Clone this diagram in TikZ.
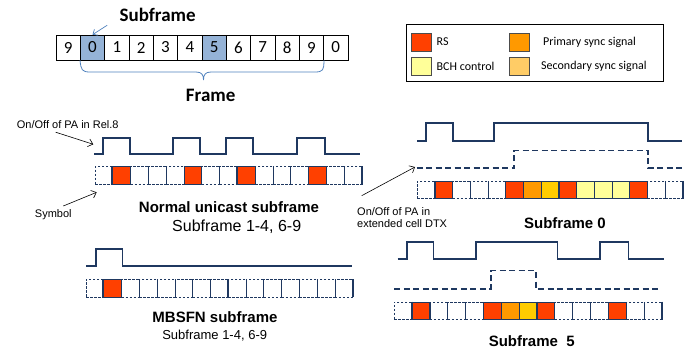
\documentclass[tikz,border=0pt]{standalone}
\usepackage{fontspec}
\setmainfont{Liberation Sans}
\newfontfamily\calibri{Carlito}
\usetikzlibrary{positioning, arrows.meta}

\definecolor{pacol}{RGB}{31,56,96}
\definecolor{rscol}{RGB}{255,64,0}
\definecolor{pscol}{RGB}{255,153,0}
\definecolor{sscol}{RGB}{255,204,0}
\definecolor{sslight}{RGB}{255,204,102}
\definecolor{bchcol}{RGB}{255,255,153}
\definecolor{sfblue}{RGB}{149,179,215}
\definecolor{brcol}{RGB}{79,129,189}

\tikzset{
  symcell/.style={draw=pacol, dash pattern=on 2.5pt off 1.5pt, line width=0.8pt,
    minimum height=17.5pt, inner sep=0pt},
  symfill/.style={draw=pacol, line width=1pt, minimum height=17.5pt, inner sep=0pt},
  bound/.style={draw=pacol, line width=2pt},
  pa/.style={draw=pacol, line width=1.6pt},
  padtx/.style={pa, dash pattern=on 6pt off 3.5pt},
  fcell/.style={draw, line width=0.6pt, minimum width=24.33pt, minimum height=25pt,
    inner sep=0pt, font=\calibri\fontsize{17}{18}\selectfont},
  swatch/.style={draw=black!70, line width=0.6pt, minimum width=20pt, minimum height=18pt,
    inner sep=0pt},
  legtxt/.style={font=\calibri\fontsize{12}{13}\selectfont, inner sep=0pt},
  lbl/.style={font=\fontsize{11}{12.5}\selectfont, inner sep=0pt},
  ttl/.style={font=\bfseries\fontsize{15}{16}\selectfont, inner sep=0pt},
  ptr/.style={-{Straight Barb[length=4.5pt, width=8pt]}, line width=0.6pt},
}

% one row of symbols: prefix, left x, centre y, cell width, coloured cells
\newcommand{\symrow}[5]{%
  \foreach \i in {0,...,14}
    \node[symcell, minimum width=#4pt] (#1\i) at ({#2+(\i+0.5)*#4}, #3) {};
  \foreach \i/\c in {#5}
    \node[symfill, fill=\c, minimum width=#4pt] (#1f\i) at (#1\i) {};
  \foreach \i in {1,8}
    \draw[bound] (#1\i.north west) -- (#1\i.south west);
  \draw[bound] (#114.north east) -- (#114.south east);
}

\begin{document}
\begin{tikzpicture}[x=1pt, y=-1pt]
  \useasboundingbox (0,0) rectangle (696,352);

  % frame
  \foreach \d/\c [count=\i from 0] in {9/white,0/sfblue,1/white,2/white,3/white,4/white,
      5/sfblue,6/white,7/white,8/white,9/white,0/white}
    \node[fcell, fill=\c] (f\i) at ({56+(\i+0.5)*24.33}, 47.5) {\d};
  \node[font=\calibri\bfseries\fontsize{19}{20}\selectfont] (sflbl) at (157.7,15) {Subframe};
  \draw[-{Straight Barb[length=4pt, width=7pt]}, draw=brcol, line width=0.7pt]
    ([xshift=-9pt]sflbl.south west) -- (f1.north);
  \draw[draw=brcol, line width=0.8pt] (f1.south west) .. controls (81,70) and (82,72) .. (90,72)
    -- (196,72) .. controls (202,72) and (203.5,75) .. (203.5,80)
    .. controls (203.5,75) and (205,72) .. (211,72) -- (315,72)
    .. controls (323,72) and (324,70) .. (f10.south east);
  \node[font=\calibri\bfseries\fontsize{19}{20}\selectfont] (frlbl) at (210.7,95) {Frame};

  % legend
  \node[draw, line width=0.6pt, minimum width=257pt, minimum height=57pt, inner sep=0pt]
    (legend) at (534.5,52.5) {};
  \node[swatch, fill=rscol] (swrs) at (421.7,42) {};
  \node[swatch, fill=bchcol] (swbch) at (421.7,66.5) {};
  \node[swatch, fill=pscol] (swps) at (519.7,42) {};
  \node[swatch, fill=sslight] (swss) at (519.7,66.5) {};
  \node[legtxt, right=4.5pt of swrs] (txrs) {RS};
  \node[legtxt, right=4.5pt of swbch] (txbch) {BCH control};
  \node[legtxt, right=13pt of swps] (txps) {Primary sync signal};
  \node[legtxt, right=11pt of swss] (txss) {Secondary sync signal};

  % normal unicast subframe
  \draw[pa] (94,154.3) -- (103,154.3) -- (103,138) -- (130,138) -- (130,154.3)
    -- (173,154.3) -- (173,138) -- (200,138) -- (200,154.3)
    -- (226,154.3) -- (226,138) -- (253,138) -- (253,154.3)
    -- (297,154.3) -- (297,138) -- (325,138) -- (325,154.3) -- (360,154.3);
  \symrow{u}{95}{175.5}{17.8}{1/rscol,5/rscol,8/rscol,12/rscol}
  \node[lbl, anchor=west] (reltxt) at (16.7,125) {On/Off of PA in Rel.8};
  \coordinate (reltip) at (93.3,144.3);
  \draw[ptr] ([xshift=-12pt,yshift=-3pt]reltxt.south) -- (reltip);
  \node[lbl] (symtxt) at (53.3,215) {Symbol};
  \coordinate (symtail) at (63.3,206);
  \coordinate (symtip) at (96.7,192.3);
  \draw[ptr] (symtail) -- (symtip);
  \node[ttl] (nutitle) at (229,206.7) {Normal unicast subframe};
  \node[font=\fontsize{16}{17}\selectfont, inner sep=0pt] (nusub) at (236.7,226.7)
    {Subframe 1-4, 6-9};

  % subframe 0
  \draw[pa] (417,141) -- (426,141) -- (426,123.3) -- (452.7,123.3) -- (452.7,141)
    -- (494,141) -- (494,123.3) -- (648,123.3) -- (648,141) -- (681.7,141);
  \draw[padtx] (416.7,168.3) -- (514,168.3) -- (514,150.7) -- (648,150.7) -- (648,168.3)
    -- (681.7,168.3);
  \symrow{a}{417.3}{190}{17.7}{1/rscol,5/rscol,6/pscol,7/sscol,8/rscol,9/bchcol,
    10/bchcol,11/bchcol,12/rscol}
  \node[lbl, align=left, anchor=north west] (dtxtxt) at (357,207)
    {On/Off of PA in\\extended cell DTX};
  \coordinate (dtxtail) at (361.7,195.7);
  \coordinate (dtxtip) at (415,167);
  \draw[ptr] (dtxtail) -- (dtxtip);
  \node[ttl] (sf0title) at (565,222.7) {Subframe 0};

  % MBSFN subframe
  \draw[pa] (86,266) -- (95.7,266) -- (95.7,249) -- (122.3,249) -- (122.3,266) -- (351.7,266);
  \symrow{m}{86}{288.3}{17.78}{1/rscol}
  \node[ttl] (mbtitle) at (215,317.3) {MBSFN subframe};
  \node[font=\fontsize{13}{14}\selectfont, inner sep=0pt] (mbsub) at (214.7,336)
    {Subframe 1-4, 6-9};

  % subframe 5
  \draw[pa] (397.7,259.3) -- (406.7,259.3) -- (406.7,242.3) -- (433.3,242.3) -- (433.3,259.3)
    -- (476,259.3) -- (476,242.3) -- (557.3,242.3) -- (557.3,259.3)
    -- (600,259.3) -- (600,242.3) -- (628.3,242.3) -- (628.3,259.3) -- (664,259.3);
  \draw[padtx] (394.3,289) -- (490.7,289) -- (490.7,270.7) -- (536,270.7) -- (536,289)
    -- (660,289);
  \symrow{b}{394.3}{310.8}{17.83}{1/rscol,5/rscol,6/pscol,7/sscol,8/rscol,12/rscol}
  \node[ttl] (sf5title) at (531.7,341) {Subframe\ \ 5};
\end{tikzpicture}
\end{document}
